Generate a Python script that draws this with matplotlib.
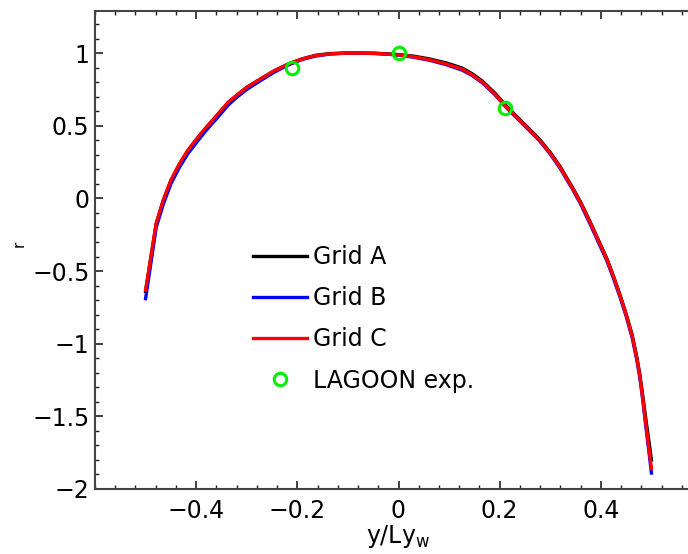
import matplotlib
matplotlib.use("Agg")
import matplotlib.pyplot as plt
from matplotlib.ticker import MultipleLocator

plt.rcParams['font.family'] = ['DejaVu Sans']
plt.rcParams['mathtext.fontset'] = 'custom'
plt.rcParams['mathtext.rm'] = 'DejaVu Sans'
plt.rcParams['mathtext.it'] = 'DejaVu Sans'

# Data
x_c = [-0.50, -0.479, -0.465, -0.45, -0.433, -0.416, -0.396, -0.38, -0.362, -0.336,
       -0.32, -0.30, -0.271, -0.245, -0.217, -0.19, -0.164, -0.135, -0.104, -0.075,
       -0.045, -0.02, 0.0, 0.03, 0.06, 0.095, 0.126, 0.146, 0.166, 0.19,
       0.213, 0.236, 0.259, 0.279, 0.30, 0.319, 0.344, 0.36, 0.378, 0.395,
       0.412, 0.425, 0.438, 0.45, 0.462, 0.471, 0.477, 0.483, 0.489, 0.495, 0.50]
r_c = [-0.63, -0.17, -0.01, 0.127, 0.24, 0.334, 0.424, 0.49, 0.561, 0.665,
       0.71, 0.765, 0.826, 0.88, 0.925, 0.96, 0.983, 0.995, 1.0, 1.0,
       0.998, 0.993, 0.988, 0.975, 0.956, 0.925, 0.89, 0.85, 0.80, 0.72,
       0.63, 0.55, 0.47, 0.40, 0.31, 0.217, 0.07, -0.03, -0.16, -0.29,
       -0.42, -0.54, -0.67, -0.80, -0.95, -1.10, -1.22, -1.38, -1.55, -1.72, -1.86]
r_b = [-0.69, -0.20, -0.04, 0.10, 0.215, 0.31, 0.40, 0.47, 0.54, 0.645,
       0.695, 0.75, 0.815, 0.87, 0.92, 0.957, 0.98, 0.994, 1.0, 1.0,
       0.997, 0.992, 0.986, 0.972, 0.952, 0.92, 0.883, 0.845, 0.795, 0.716,
       0.626, 0.546, 0.466, 0.396, 0.305, 0.21, 0.063, -0.038, -0.17, -0.30,
       -0.43, -0.55, -0.68, -0.81, -0.96, -1.11, -1.23, -1.39, -1.57, -1.74, -1.89]
r_a = [-0.64, -0.175, -0.015, 0.12, 0.235, 0.33, 0.42, 0.487, 0.558, 0.662,
       0.708, 0.764, 0.826, 0.88, 0.926, 0.961, 0.985, 0.997, 1.0, 1.0,
       0.999, 0.995, 0.99, 0.979, 0.961, 0.932, 0.897, 0.857, 0.807, 0.727,
       0.637, 0.556, 0.476, 0.406, 0.316, 0.222, 0.075, -0.025, -0.155, -0.285,
       -0.415, -0.535, -0.665, -0.795, -0.94, -1.09, -1.21, -1.36, -1.52, -1.67, -1.80]
x_exp = [-0.21, 0.0, 0.21]
r_exp = [0.90, 1.0, 0.62]

fig = plt.figure(figsize=(6.88, 5.54), dpi=100)
ax = fig.add_axes([95/688, 65/554, 607/688, 478/554])

ax.plot(x_c, r_a, color='black', lw=2.4, label='Grid A')
ax.plot(x_c, r_b, color='#0000ff', lw=2.4, label='Grid B')
ax.plot(x_c, r_c, color='#ff0000', lw=2.4, label='Grid C')
ax.plot(x_exp, r_exp, 'o', mfc='none', mec='#00ee00', mew=2.2, ms=9,
        label='LAGOON exp.', zorder=5)

ax.set_xlim(-0.6, 0.6)
ax.set_ylim(-2, 1.29)
ax.xaxis.set_minor_locator(MultipleLocator(0.04))
ax.yaxis.set_minor_locator(MultipleLocator(0.1))
ax.set_xticks([-0.4, -0.2, 0, 0.2, 0.4])
ax.set_xticklabels(['\u22120.4', '\u22120.2', '0', '0.2', '0.4'])
ax.set_yticks([-2, -1.5, -1, -0.5, 0, 0.5, 1])
ax.set_yticklabels(['\u22122', '\u22121.5', '\u22121', '\u22120.5', '0', '0.5', '1'])

ax.tick_params(which='both', direction='in', top=True, right=True,
               labelsize=17, color='#222222')
ax.tick_params(which='major', length=6, width=1.2)
ax.tick_params(which='minor', length=3, width=1.0)
ax.tick_params(axis='x', which='major', pad=7)
ax.tick_params(axis='y', which='major', pad=4)
for s in ax.spines.values():
    s.set_linewidth(1.5)
    s.set_color('#444444')

ax.set_xlabel(r'y/Ly$_\mathregular{w}$', fontsize=17, labelpad=0)
fig.text(19/688, 1 - 244/554, 'r', rotation=90, fontsize=11,
         ha='center', va='center')

leg = ax.legend(loc='upper left', bbox_to_anchor=(253/688, 1 - 245/554),
                bbox_transform=fig.transFigure, frameon=False, fontsize=17,
                handlelength=2.3, handletextpad=0.25, labelspacing=0.73,
                borderaxespad=0, borderpad=0)

fig.savefig('out.png', dpi=100)
